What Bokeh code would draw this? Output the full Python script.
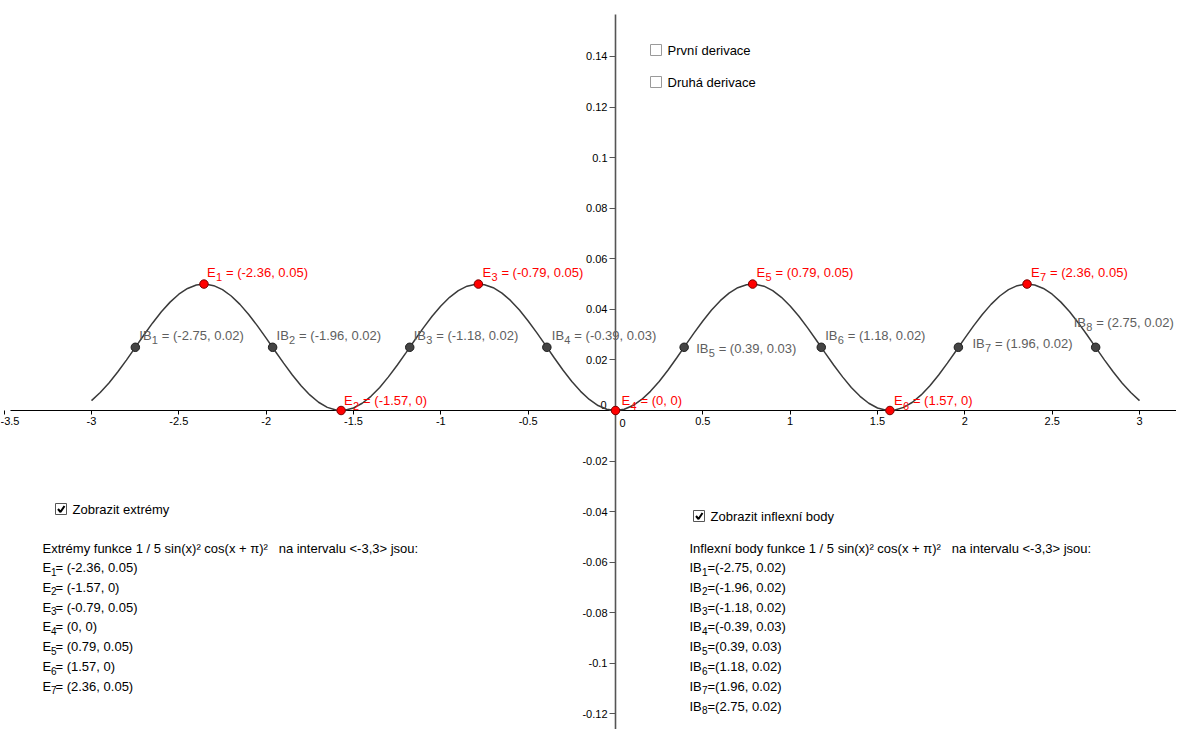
from bokeh.plotting import figure
from bokeh.models import Range1d, FixedTicker, CustomJSTickFormatter, ColumnDataSource
from bokeh.embed import file_html
from bokeh.resources import INLINE
from bokeh.core.properties import value

# ---------------- data ----------------
curve_x = [round(-3 + 0.05 * i, 2) for i in range(121)]
curve_y = [
    0.00390, 0.00713, 0.01088, 0.01520, 0.01994, 0.02489, 0.02986, 0.03463, 0.03903, 0.04286,
    0.04598, 0.04826, 0.04962, 0.04999, 0.04937, 0.04778, 0.04528, 0.04197, 0.03798, 0.03348,
    0.02864, 0.02365, 0.01872, 0.01404, 0.00979, 0.00615, 0.00327, 0.00124, 0.00017, 0.00009,
    0.00100, 0.00286, 0.00561, 0.00913, 0.01329, 0.01791, 0.02281, 0.02780, 0.03268, 0.03726,
    0.04134, 0.04477, 0.04742, 0.04917, 0.04996, 0.04975, 0.04856, 0.04642, 0.04344, 0.03971,
    0.03540, 0.03068, 0.02573, 0.02075, 0.01594, 0.01149, 0.00758, 0.00437, 0.00197, 0.00050,
    0.00000,
    0.00050, 0.00197, 0.00437, 0.00758, 0.01149, 0.01594, 0.02075, 0.02573, 0.03068, 0.03540,
    0.03971, 0.04344, 0.04642, 0.04856, 0.04975, 0.04996, 0.04917, 0.04742, 0.04477, 0.04134,
    0.03726, 0.03268, 0.02780, 0.02281, 0.01791, 0.01329, 0.00913, 0.00561, 0.00286, 0.00100,
    0.00009, 0.00017, 0.00124, 0.00327, 0.00615, 0.00979, 0.01404, 0.01872, 0.02365, 0.02864,
    0.03348, 0.03798, 0.04197, 0.04528, 0.04778, 0.04937, 0.04999, 0.04962, 0.04826, 0.04598,
    0.04286, 0.03903, 0.03463, 0.02986, 0.02489, 0.01994, 0.01520, 0.01088, 0.00713, 0.00390,
]

e_x = [-2.356, -1.571, -0.785, 0.0, 0.785, 1.571, 2.356]
e_y = [0.05, 0.0, 0.05, 0.0, 0.05, 0.0, 0.05]
e_text = ["(-2.36, 0.05)", "(-1.57, 0)", "(-0.79, 0.05)", "(0, 0)",
          "(0.79, 0.05)", "(1.57, 0)", "(2.36, 0.05)"]

ib_x = [-2.749, -1.963, -1.178, -0.393, 0.393, 1.178, 1.963, 2.749]
ib_y = [0.025, 0.025, 0.025, 0.025, 0.025, 0.025, 0.025, 0.025]
ib_text = ["(-2.75, 0.02)", "(-1.96, 0.02)", "(-1.18, 0.02)", "(-0.39, 0.03)",
           "(0.39, 0.03)", "(1.18, 0.02)", "(1.96, 0.02)", "(2.75, 0.02)"]

x_ticks = [-3.5, -3, -2.5, -2, -1.5, -1, -0.5, 0, 0.5, 1, 1.5, 2, 2.5, 3]
y_ticks = [-0.12, -0.1, -0.08, -0.06, -0.04, -0.02, 0, 0.02, 0.04, 0.06,
           0.08, 0.1, 0.12, 0.14]

NB = "\u00a0"
func_text = "1 / 5 sin(x)\u00b2 cos(x + \u03c0)\u00b2" + NB * 3 + "na intervalu <-3,3> jsou:"
left_title = "Extrémy funkce " + func_text
right_title = "Inflexní body funkce " + func_text

# ---------------- layout helpers ----------------
W, H = 1176, 729
PXU_X = 174.67      # pixels per x unit
PXU_Y = 2528.6      # pixels per y unit
X0_PX, Y0_PX = 615, 410   # pixel position of the origin
XR = (-X0_PX / PXU_X, (W - X0_PX) / PXU_X)
YR = (-(H - Y0_PX) / PXU_Y, Y0_PX / PXU_Y)
FONT = "Liberation Sans"


def px_x(px):
    return (px - X0_PX) / PXU_X


def px_y(py):
    return (Y0_PX - py) / PXU_Y


p = figure(width=W, height=H, x_range=Range1d(*XR), y_range=Range1d(*YR),
           output_backend="svg", toolbar_location=None, min_border=0,
           outline_line_color=None, background_fill_color="white")
p.grid.visible = False

tick_fmt = CustomJSTickFormatter(code="""
if (Math.abs(tick) < 1e-9) { return ""; }
return String(Math.round(tick * 100) / 100);
""")

for ax in (p.xaxis, p.yaxis):
    ax.fixed_location = 0
    ax.formatter = tick_fmt
    ax.major_tick_in = 0
    ax.minor_tick_in = 0
    ax.minor_tick_out = 0
    ax.major_label_text_font = FONT
    ax.major_label_text_font_size = "11px"
    ax.major_label_text_color = "#000000"
    ax.level = "underlay"

p.xaxis.ticker = FixedTicker(ticks=x_ticks, minor_ticks=[])
p.yaxis.ticker = FixedTicker(ticks=y_ticks, minor_ticks=[])
p.xaxis.major_tick_out = 4
p.xaxis.major_label_standoff = 2
p.xaxis.axis_line_color = "#000000"
p.xaxis.major_tick_line_color = "#000000"
p.xaxis.axis_line_width = 1.2
p.xaxis.bounds = (px_x(10), XR[1] + 1)
p.yaxis.major_tick_out = 6
p.yaxis.major_label_standoff = 2
p.yaxis.axis_line_color = "#555555"
p.yaxis.major_tick_line_color = "#555555"
p.yaxis.axis_line_width = 1.6
p.yaxis.bounds = (YR[0] - 1, px_y(14))


def txt(x, y, s, size="13px", color="#000000", align="left", baseline="middle"):
    p.text(x=[x], y=[y], text=[s], text_font=value(FONT), text_font_size=value(size),
           text_color=color, text_align=align, text_baseline=baseline)


# origin labels
txt(px_x(603), px_y(404), "0", size="11px", align="center")
txt(px_x(622), px_y(422), "0", size="11px", align="center")

# curve
p.line(curve_x, curve_y, line_color="#3a3a3a", line_width=1.5)

# points
p.scatter(ib_x, ib_y, size=8.5, fill_color="#444444", line_color="#1e1e1e", line_width=1)
p.scatter(e_x, e_y, size=8.5, fill_color="#ff0000", line_color="#7a0000", line_width=1)

# point labels (E in red, IB in grey)
e_dx = [3, 3, 4, 6, 4, 4, 4]
e_dy = [-12, -10, -12, -10, -12, -10, -12]
e_src = ColumnDataSource(dict(
    x=e_x, y=e_y, dx=e_dx, dy=e_dy,
    sdx=[d + 9 for d in e_dx], sdy=[d + 5 for d in e_dy],
    rdx=[d + 19 for d in e_dx],
    sub=[str(i + 1) for i in range(len(e_x))],
    rest=["= " + t for t in e_text]))
lab_kw = dict(text_font=value(FONT), text_baseline="middle", text_align="left")
p.text(x="x", y="y", text=value("E"), x_offset="dx", y_offset="dy", source=e_src,
       text_font_size=value("13px"), text_color="#ff0000", **lab_kw)
p.text(x="x", y="y", text="sub", x_offset="sdx", y_offset="sdy", source=e_src,
       text_font_size=value("11px"), text_color="#ff0000", **lab_kw)
p.text(x="x", y="y", text="rest", x_offset="rdx", y_offset="dy", source=e_src,
       text_font_size=value("13px"), text_color="#ff0000", **lab_kw)

ib_dx = [4, 4, 4, 5, 12, 4, 14, -22]
ib_dy = [-12, -12, -12, -12, 1, -12, -4, -25]
ib_src = ColumnDataSource(dict(
    x=ib_x, y=ib_y, dx=ib_dx, dy=ib_dy,
    sdx=[d + 12.5 for d in ib_dx], sdy=[d + 5 for d in ib_dy],
    rdx=[d + 22.5 for d in ib_dx],
    sub=[str(i + 1) for i in range(len(ib_x))],
    rest=["= " + t for t in ib_text]))
p.text(x="x", y="y", text=value("IB"), x_offset="dx", y_offset="dy", source=ib_src,
       text_font_size=value("13px"), text_color="#5e5e5e", **lab_kw)
p.text(x="x", y="y", text="sub", x_offset="sdx", y_offset="sdy", source=ib_src,
       text_font_size=value("11px"), text_color="#5e5e5e", **lab_kw)
p.text(x="x", y="y", text="rest", x_offset="rdx", y_offset="dy", source=ib_src,
       text_font_size=value("13px"), text_color="#5e5e5e", **lab_kw)


# checkboxes
def checkbox(left, top, label, checked):
    p.quad(left=[px_x(left)], right=[px_x(left + 11)], top=[px_y(top)],
           bottom=[px_y(top + 11)], fill_color="white",
           line_color="#555555" if checked else "#9a9a9a", line_width=1)
    if checked:
        p.line([px_x(left + 2.5), px_x(left + 5), px_x(left + 9)],
               [px_y(top + 5.5), px_y(top + 8.5), px_y(top + 2.5)],
               line_color="#000000", line_width=2)
    txt(px_x(left + 17), px_y(top + 5.5), label, size="13px")


checkbox(650, 44, "První derivace", False)
checkbox(650, 76, "Druhá derivace", False)
checkbox(55, 503, "Zobrazit extrémy", True)
checkbox(693, 510, "Zobrazit inflexní body", True)

# text lists below the graph
line_step = 19.8
txt(px_x(42), px_y(548), left_title)
for i, t in enumerate(e_text):
    yy = px_y(567 + i * line_step)
    yy_sub = px_y(571 + i * line_step)
    txt(px_x(42), yy, "E")
    txt(px_x(50.5), yy_sub, str(i + 1), size="10px")
    txt(px_x(55), yy, "= " + t)

txt(px_x(689), px_y(548), right_title)
for i, t in enumerate(ib_text):
    yy = px_y(567 + i * line_step)
    yy_sub = px_y(571 + i * line_step)
    txt(px_x(689), yy, "IB")
    txt(px_x(701.5), yy_sub, str(i + 1), size="10px")
    txt(px_x(707), yy, "=" + t)

open("out.html", "w").write(file_html(p, INLINE))
